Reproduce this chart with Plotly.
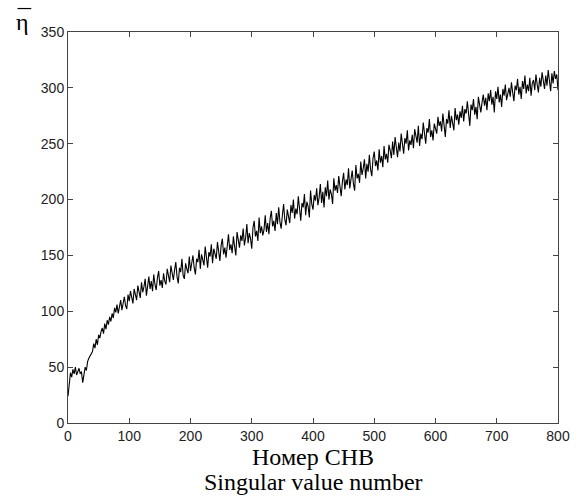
import plotly.graph_objects as go

# eta-bar values, every 2nd singular value number
# (rows of 20 values = 40 indices)
eta_values = [
    24, 36, 45, 41, 48, 44, 50, 43, 47, 49, 44, 46, 36, 42, 50, 47, 55, 58, 60, 63,
    64, 71, 67, 75, 70, 79, 76, 82, 85, 80, 89, 84, 92, 88, 95, 91, 98, 94, 103, 99,
    106, 98, 104, 110, 101, 108, 113, 105, 102, 115, 109, 118, 111, 107, 120, 114, 110, 123, 116, 112,
    126, 117, 122, 129, 114, 125, 131, 120, 127, 118, 133, 124, 119, 130, 136, 123, 128, 121, 134, 127,
    124, 138, 130, 126, 141, 133, 128, 137, 144, 131, 125, 139, 135, 147, 132, 129, 143, 138, 134, 149,
    136, 143, 150, 139, 133, 147, 144, 155, 138, 151, 145, 141, 158, 146, 139, 153, 149, 160, 143, 156,
    150, 147, 162, 154, 145, 159, 165, 151, 157, 148, 163, 169, 155, 160, 152, 167, 158, 150, 171, 162,
    157, 168, 163, 174, 159, 166, 178, 161, 170, 165, 156, 175, 181, 167, 172, 163, 184, 170, 176, 168,
    173, 186, 171, 179, 169, 183, 190, 176, 181, 172, 188, 178, 193, 180, 174, 186, 196, 182, 177, 191,
    185, 179, 195, 188, 200, 183, 192, 187, 203, 190, 181, 197, 193, 205, 186, 198, 194, 184, 208, 196,
    191, 204, 199, 210, 195, 202, 214, 197, 207, 193, 211, 203, 217, 200, 209, 205, 196, 219, 208, 213,
    206, 221, 211, 203, 216, 224, 209, 218, 213, 228, 210, 220, 226, 214, 208, 231, 219, 223, 215, 234,
    222, 228, 236, 219, 232, 225, 240, 227, 221, 237, 243, 230, 235, 226, 245, 233, 239, 229, 248, 236,
    241, 233, 249, 244, 237, 252, 240, 256, 246, 238, 251, 243, 259, 247, 241, 255, 250, 262, 244, 253,
    249, 258, 246, 263, 255, 251, 266, 248, 259, 254, 269, 257, 250, 264, 260, 272, 256, 262, 253, 268,
    263, 259, 274, 266, 270, 261, 277, 265, 256, 272, 268, 280, 264, 275, 269, 262, 282, 271, 276, 267,
    279, 273, 284, 270, 281, 277, 288, 274, 266, 285, 280, 290, 276, 283, 272, 292, 282, 278, 287, 294,
    284, 291, 280, 295, 288, 298, 285, 292, 278, 297, 290, 301, 287, 294, 283, 299, 293, 303, 289, 296,
    300, 292, 305, 296, 288, 302, 298, 308, 294, 301, 290, 306, 299, 311, 295, 303, 297, 309, 293, 304,
    307, 298, 312, 303, 296, 309, 301, 314, 305, 299, 311, 302, 316, 306, 297, 313, 304, 315, 308, 312,
    298,
]
x_index = list(range(0, 2 * len(eta_values), 2))

x_ticks = [0, 100, 200, 300, 400, 500, 600, 700, 800]
y_ticks = [0, 50, 100, 150, 200, 250, 300, 350]
x_title_ru = "Номер СНВ"
x_title_en = "Singular value number"
y_title = "η"

fig = go.Figure()
fig.add_trace(go.Scatter(
    x=x_index, y=eta_values, mode="lines",
    line=dict(color="black", width=1.1),
    showlegend=False, hoverinfo="skip",
))

axis_common = dict(
    showline=True, linecolor="#444444", linewidth=1,
    mirror="ticks", ticks="inside", ticklen=5, tickcolor="#444444",
    showgrid=False, zeroline=False,
    tickfont=dict(family="Liberation Sans, Arial, sans-serif", size=14, color="#222222"),
)

fig.update_layout(
    width=582, height=498,
    margin=dict(l=68, r=16, t=32, b=75),
    paper_bgcolor="white", plot_bgcolor="white",
    xaxis=dict(range=[0, 800], tickvals=x_ticks, **axis_common),
    yaxis=dict(range=[0, 350], tickvals=y_ticks, **axis_common),
)

serif = "Liberation Serif, Times New Roman, serif"
fig.add_annotation(text=x_title_ru, xref="paper", yref="paper", x=0.5, y=-0.087,
                   xanchor="center", yanchor="middle", showarrow=False,
                   font=dict(family=serif, size=24, color="black"))
fig.add_annotation(text=x_title_en, xref="paper", yref="paper", x=0.5, y=-0.150,
                   xanchor="center", yanchor="middle", showarrow=False,
                   font=dict(family=serif, size=24, color="black"))
fig.add_annotation(text=y_title, xref="paper", yref="paper", x=-0.093, y=1.026,
                   xanchor="center", yanchor="middle", showarrow=False,
                   font=dict(family=serif, size=24, color="black"))
fig.add_shape(type="line", xref="paper", yref="paper",
              x0=-0.103, x1=-0.075, y0=1.060, y1=1.060,
              line=dict(color="black", width=1.2))

fig.write_html("out.html")
